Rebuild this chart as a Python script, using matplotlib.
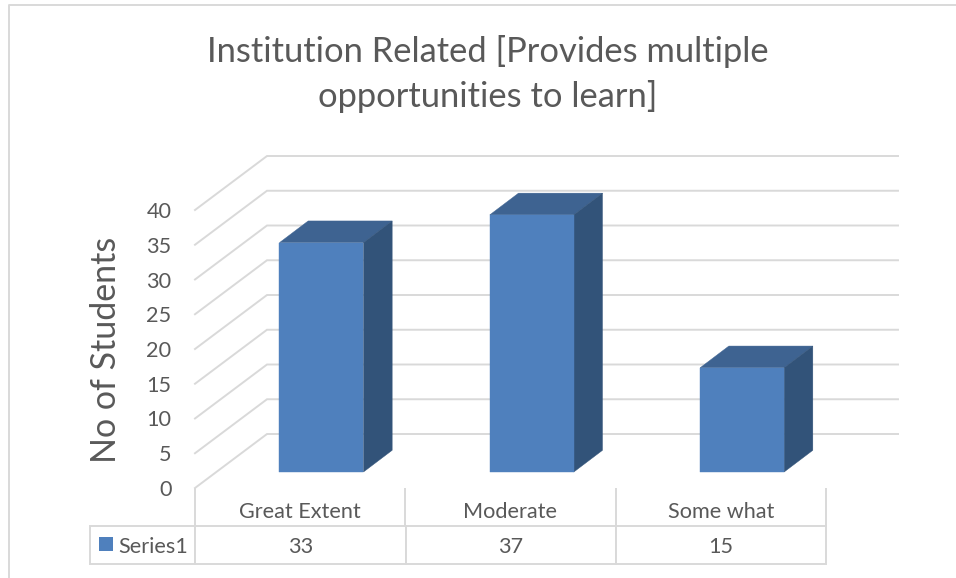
import numpy as np
import matplotlib
matplotlib.use("Agg")
import matplotlib.pyplot as plt
from matplotlib.lines import Line2D
from matplotlib.patches import Polygon, Rectangle

# Data
categories = ["Great Extent", "Moderate", "Some what"]
series_name = "Series1"
values = [33, 37, 15]
y_ticks = [0, 5, 10, 15, 20, 25, 30, 35, 40]
title = "Institution Related [Provides multiple\nopportunities to learn]"
y_label = "No of Students"

# Style
W, H = 956, 578
FONT = "Lato"
TEXT = "#595959"
GRID = "#d9d9d9"
FRONT = "#4f80bd"
TOP = "#3e6391"
SIDE = "#325379"
TICK_SIZE = 15.6

plt.rcParams["font.family"] = [FONT, "DejaVu Sans"]
fig = plt.figure(figsize=(W / 100, H / 100), dpi=100, facecolor="white")


def fx(px):
    return px / W


def fy(py):
    return 1 - py / H


# Axes = the front plane of the 3D box
L, R, T, B = 195, 826, 210, 488
ax = fig.add_axes([fx(L), fy(B), (R - L) / W, (B - T) / H])
ax.set_xlim(-0.5, 2.5)
ax.set_ylim(0, 40)
ax.patch.set_visible(False)
for s in ax.spines.values():
    s.set_visible(False)

px_x = 3 / (R - L)      # data units per pixel, x
px_y = 40 / (B - T)     # data units per pixel, y
wall_dx, wall_dy = 72 * px_x, 54 * px_y
bar_dx0, bar_dy0 = 21.3 * px_x, 16 * px_y
bar_dx1, bar_dy1 = 50 * px_x, 37.7 * px_y
bar_w = 84 * px_x

# Walls: gridlines run back from the front plane, then across the rear wall
for t in y_ticks:
    ax.plot([-0.5, -0.5 + wall_dx, 2.5 + wall_dx],
            [t, t + wall_dy, t + wall_dy],
            color=GRID, lw=1.4, clip_on=False, zorder=1,
            solid_joinstyle="miter")

# Bars
xs = np.arange(len(values))
for x, v in zip(xs, values):
    x0 = x - bar_w / 2 + bar_dx0
    x1 = x + bar_w / 2 + bar_dx0
    y0 = bar_dy0
    y1 = v + bar_dy0
    ddx = bar_dx1 - bar_dx0
    ddy = bar_dy1 - bar_dy0
    ax.add_patch(Polygon([(x0, y1), (x1, y1), (x1 + ddx, y1 + ddy), (x0 + ddx, y1 + ddy)],
                         closed=True, fc=TOP, ec=TOP, lw=0.3, clip_on=False, zorder=3))
    ax.add_patch(Polygon([(x1, y0), (x1 + ddx, y0 + ddy), (x1 + ddx, y1 + ddy), (x1, y1)],
                         closed=True, fc=SIDE, ec=SIDE, lw=0.3, clip_on=False, zorder=3))
ax.bar(xs + bar_dx0, values, width=bar_w, bottom=bar_dy0, color=FRONT,
       edgecolor=FRONT, linewidth=0.3, clip_on=False, zorder=4)

# Axes text
ax.set_yticks(y_ticks)
ax.set_xticks(xs)
ax.set_xticklabels(categories)
ax.tick_params(axis="y", length=0, pad=17, labelsize=TICK_SIZE, labelcolor=TEXT)
ax.tick_params(axis="x", length=0, pad=10, labelsize=TICK_SIZE, labelcolor=TEXT)
for lab in ax.get_yticklabels():
    lab.set_verticalalignment("center_baseline")

# Data table
tbl_l, tbl_r, tbl_t, tbl_b = 90, 826, 526, 564
cols = [105, 211, 210, 210]
table = ax.table(
    cellText=[[series_name] + [str(v) for v in values]],
    colWidths=[c / sum(cols) for c in cols],
    cellLoc="center",
    bbox=[(tbl_l - L) / (R - L), (B - tbl_b) / (B - T),
          (tbl_r - tbl_l) / (R - L), (tbl_b - tbl_t) / (B - T)],
)
table.auto_set_font_size(False)
for (r, c), cell in table.get_celld().items():
    cell.set_edgecolor(GRID)
    cell.set_linewidth(1.4)
    cell.set_text_props(color=TEXT, fontsize=TICK_SIZE, verticalalignment="center_baseline")
first = table[(0, 0)]
first.set_text_props(horizontalalignment="left")
first.PAD = 0.265

# Dividers between categories above the table
for x in [-0.5, 0.5, 1.5, 2.5]:
    ax.plot([x, x], [(B - 489) * px_y, (B - tbl_t) * px_y],
            color=GRID, lw=1.4, clip_on=False, zorder=1)

# Legend key inside the table
fig.add_artist(Rectangle((fx(99), fy(551)), 14 / W, 14 / H,
                         transform=fig.transFigure, fc=FRONT, ec="none"))

# Chart frame (only left and top edges are visible)
fig.add_artist(Line2D([fx(9), fx(9), 1], [0, fy(5), fy(5)],
                      transform=fig.transFigure, color=GRID, lw=1.4))

# Titles
fig.text(fx(488), fy(74), title, ha="center", va="center", fontsize=24.8,
         color=TEXT, linespacing=1.48)
fig.text(fx(106), fy(350), y_label, rotation=90, ha="center", va="center",
         fontsize=24.5, color=TEXT)

fig.savefig("out.png", dpi=100, facecolor="white")
